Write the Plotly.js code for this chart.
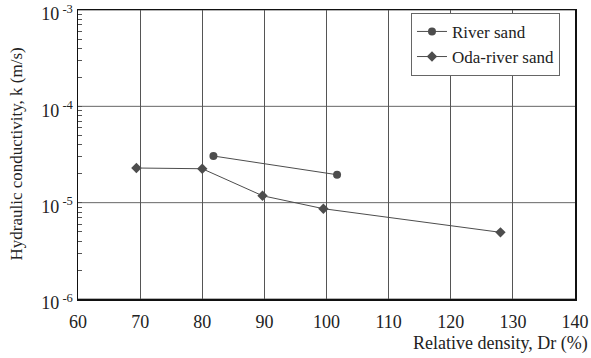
<!DOCTYPE html>
<html>
<head>
<meta charset="utf-8">
<script src="https://cdn.plot.ly/plotly-3.0.1.min.js"></script>
<style>
  html, body { margin: 0; padding: 0; background: #fff; }
  #chart { width: 591px; height: 358px; }
</style>
</head>
<body>
<div id="chart"></div>
<script>
// Relative density Dr (%) and hydraulic conductivity k (m/s)
const riverSandDr = [81.8, 101.7];
const riverSandK = [3.05e-5, 1.95e-5];

const odaSandDr = [69.4, 80.0, 89.7, 99.5, 128.0];
const odaSandK = [2.29e-5, 2.25e-5, 1.18e-5, 8.66e-6, 4.92e-6];

const xTickVals = [60, 70, 80, 90, 100, 110, 120, 130, 140];
const yDecadeVals = [1e-6, 1e-5, 1e-4, 1e-3];
const yDecadeText = ['10<sup> -6</sup>', '10<sup> -5</sup>', '10<sup> -4</sup>', '10<sup> -3</sup>'];

// y ticks: labelled decades plus unlabelled 2..9 steps inside each decade
const yTickVals = [];
const yTickText = [];
for (let i = 0; i < yDecadeVals.length; i++) {
  yTickVals.push(yDecadeVals[i]);
  yTickText.push(yDecadeText[i]);
  if (i < yDecadeVals.length - 1) {
    for (let m = 2; m <= 9; m++) {
      yTickVals.push(m * yDecadeVals[i]);
      yTickText.push('');
    }
  }
}

const serif = '"Liberation Serif", "Times New Roman", serif';
const markColor = '#4d4d4d';
const textColor = '#222';

const traces = [
  {
    x: riverSandDr, y: riverSandK, name: 'River sand',
    mode: 'lines+markers', type: 'scatter',
    line: { color: markColor, width: 1 },
    marker: { symbol: 'circle', size: 8, color: markColor }
  },
  {
    x: odaSandDr, y: odaSandK, name: 'Oda-river sand',
    mode: 'lines+markers', type: 'scatter',
    line: { color: markColor, width: 1 },
    marker: { symbol: 'diamond', size: 8, color: markColor }
  }
];

// horizontal grid only at the decades
const decadeGrid = yDecadeVals.map(v => ({
  type: 'line', xref: 'paper', yref: 'y', x0: 0, x1: 1, y0: v, y1: v,
  line: { color: '#666', width: 1 }, layer: 'below'
}));

const layout = {
  width: 591, height: 358,
  margin: { l: 78, r: 16, t: 10, b: 59 },
  paper_bgcolor: '#fff', plot_bgcolor: '#fff',
  font: { family: serif, size: 17, color: textColor },
  showlegend: true,
  legend: {
    x: 0.67, y: 0.99, xanchor: 'left', yanchor: 'top',
    bgcolor: '#fff', bordercolor: '#666', borderwidth: 1,
    font: { family: serif, size: 17, color: textColor },
    itemwidth: 30, tracegroupgap: 0
  },
  xaxis: {
    range: [60, 140], tickmode: 'array', tickvals: xTickVals,
    showgrid: true, gridcolor: '#555', gridwidth: 1,
    showline: true, linecolor: '#111', linewidth: 1.5, mirror: true,
    ticks: '', zeroline: false, ticklabelstandoff: 6,
    tickfont: { family: serif, size: 18, color: textColor }
  },
  yaxis: {
    type: 'log', range: [-6, -3],
    tickmode: 'array', tickvals: yTickVals, ticktext: yTickText,
    showgrid: false,
    showline: true, linecolor: '#111', linewidth: 1.5, mirror: true,
    ticks: 'inside', ticklen: 4, tickcolor: '#555', tickwidth: 1,
    zeroline: false, ticklabeloverflow: 'allow', ticklabelshift: 4,
    tickfont: { family: serif, size: 18, color: textColor }
  },
  shapes: decadeGrid,
  annotations: [
    {
      text: 'Relative density, Dr (%)', xref: 'paper', yref: 'paper',
      x: 1.03, y: 0, xanchor: 'right', yanchor: 'middle', yshift: -44,
      showarrow: false, font: { family: serif, size: 18, color: textColor }
    },
    {
      text: 'Hydraulic conductivity, k (m/s)', xref: 'paper', yref: 'paper',
      x: 0, y: 0.5, xanchor: 'center', yanchor: 'middle', xshift: -62,
      textangle: -90, showarrow: false,
      font: { family: serif, size: 17, color: textColor }
    }
  ]
};

Plotly.newPlot('chart', traces, layout, { displayModeBar: false, staticPlot: true });
</script>
</body>
</html>
